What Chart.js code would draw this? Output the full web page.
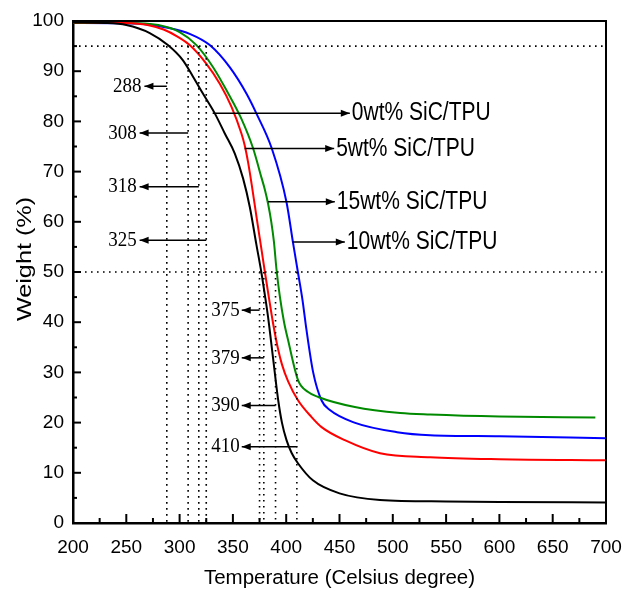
<!DOCTYPE html>
<html>
<head>
<meta charset="utf-8">
<script src="https://cdn.jsdelivr.net/npm/chart.js@4.4.0/dist/chart.umd.min.js"></script>
<style>
  html, body { margin: 0; padding: 0; background: #fff; }
  #wrap { width: 623px; height: 591px; }
</style>
</head>
<body>
<div id="wrap"><canvas id="tgaChart" width="623" height="591"></canvas></div>
<script>
// TGA curves
const temp0 = [200, 230, 250, 272, 289, 303, 312.6, 322, 333, 342.4, 351.8, 359.6, 365.9, 372, 376.8, 380, 383, 387.7, 392.4, 396, 400.3, 405, 411, 425, 450, 488, 550, 600, 700];
const wt0   = [99.7, 99.6, 99.2, 97.6, 95.2, 92.2, 88.9, 85.5, 81.6, 77.6, 73.6, 68.6, 62.9, 55.5, 49.8, 45.4, 41, 32.8, 24.6, 20, 16.5, 14, 11.9, 8.5, 5.9, 4.6, 4.3, 4.2, 4.1];

const temp5 = [200, 250, 270, 285, 298, 309.5, 325, 337.7, 348.7, 358, 361, 364.3, 367.5, 372, 376.8, 380, 384, 388, 392.4, 396, 401.8, 411.2, 423.8, 433.2, 455, 488, 535, 600, 700];
const wt5   = [99.7, 99.6, 99.2, 98.3, 96.9, 95.2, 91.5, 87.5, 82.9, 77.6, 75.3, 71.8, 67.6, 61.2, 54.5, 50, 44.6, 39.4, 34.6, 31.6, 28.2, 24.4, 21.1, 19.1, 16.5, 13.9, 13.1, 12.7, 12.5];

const temp15 = [200, 250, 280, 300, 315.8, 331.4, 344, 358, 369, 376.8, 380, 383, 386, 388.5, 390.9, 394, 398, 401.8, 411.2, 420.6, 430, 464.4, 507, 535, 600, 690];
const wt15   = [99.6, 99.6, 99.2, 97.8, 95.2, 90.8, 86.2, 80.5, 74.6, 68.8, 66.4, 63.6, 60, 56, 50.5, 45.2, 40, 36.4, 28.4, 26.1, 25.1, 23.1, 21.9, 21.6, 21.2, 21.0];

const temp10 = [200, 260, 290, 310, 328.3, 347, 362.8, 372, 386.5, 400.3, 406.5, 411.2, 415.3, 419, 425.3, 433.2, 441, 464, 504, 535, 600, 700];
const wt10   = [99.6, 99.5, 98.6, 97.4, 95.2, 90.8, 85.5, 81.6, 74.6, 63.9, 55.7, 49.7, 44.4, 38.5, 30, 24.4, 22.5, 20.0, 18.1, 17.5, 17.3, 16.9];

// 5 % loss and 50 % loss temperatures
const onsetTemps = [288, 308, 318, 325];
const onsetArrowY = [87, 77.7, 67, 56.3];
const onsetArrowTip = [267, 262.5, 262.5, 262.5];
const halfTemps = [375, 379, 390, 410];
const halfArrowY = [42.4, 32.9, 23.4, 15.2];
const halfArrowTip = 358.3;

// curve labels with arrows
const labelNames = ['0wt% SiC/TPU', '5wt% SiC/TPU', '15wt% SiC/TPU', '10wt% SiC/TPU'];
const labelFrom = [331, 361, 383, 406];
const labelTo = [459.7, 445, 445.6, 455];
const labelY = [81.6, 74.6, 64, 56];

const tickFont = { family: '"Liberation Sans", Arial, sans-serif', size: 19 };
const titleFont = { family: '"Liberation Sans", Arial, sans-serif', size: 20.5 };

function series(t, w) {
  return t.map((v, i) => ({ x: v, y: w[i] }));
}

function arrow(ctx, x1, y1, x2, y2) {
  ctx.beginPath();
  ctx.moveTo(x1, y1);
  ctx.lineTo(x2, y2);
  ctx.stroke();
  const dir = Math.sign(x2 - x1);
  ctx.beginPath();
  ctx.moveTo(x2, y2);
  ctx.lineTo(x2 - dir * 9, y2 - 3.5);
  ctx.lineTo(x2 - dir * 9, y2 + 3.5);
  ctx.closePath();
  ctx.fill();
}

// the source figure is stretched vertically, so text is too
function stretchedText(ctx, txt, x, y, font, sx, sy, align, rot) {
  ctx.save();
  ctx.translate(x, y);
  if (rot) ctx.rotate(rot);
  ctx.scale(sx, sy);
  ctx.font = font;
  ctx.textAlign = align;
  ctx.textBaseline = 'middle';
  ctx.fillText(txt, 0, 0);
  ctx.restore();
}

const decorations = {
  id: 'decorations',
  afterDraw(chart) {
    const { ctx, chartArea: { left, right, top, bottom }, scales: { x, y } } = chart;
    ctx.save();
    ctx.strokeStyle = '#000';
    ctx.fillStyle = '#000';

    // top and right frame
    ctx.lineWidth = 2;
    ctx.beginPath();
    ctx.moveTo(left, top);
    ctx.lineTo(right, top);
    ctx.lineTo(right, bottom);
    ctx.stroke();

    // inward ticks
    ctx.lineWidth = 2;
    for (let v = x.min + 25; v < x.max; v += 25) {
      const px = x.getPixelForValue(v);
      const len = v % 50 === 0 ? 9 : 5;
      ctx.beginPath();
      ctx.moveTo(px, bottom);
      ctx.lineTo(px, bottom - len);
      ctx.stroke();
    }
    for (let v = y.min + 5; v < y.max; v += 5) {
      const py = y.getPixelForValue(v);
      const len = v % 10 === 0 ? 8 : 4;
      ctx.beginPath();
      ctx.moveTo(left, py);
      ctx.lineTo(left + len, py);
      ctx.stroke();
    }

    // dotted guide lines
    ctx.lineWidth = 1.6;
    ctx.setLineDash([1.6, 4.4]);
    [95, 50].forEach(v => {
      const py = y.getPixelForValue(v);
      ctx.beginPath();
      ctx.moveTo(left, py);
      ctx.lineTo(right, py);
      ctx.stroke();
    });
    onsetTemps.forEach(t => {
      const px = x.getPixelForValue(t);
      ctx.beginPath();
      ctx.moveTo(px, y.getPixelForValue(95));
      ctx.lineTo(px, bottom);
      ctx.stroke();
    });
    halfTemps.forEach(t => {
      const px = x.getPixelForValue(t);
      ctx.beginPath();
      ctx.moveTo(px, y.getPixelForValue(50));
      ctx.lineTo(px, bottom);
      ctx.stroke();
    });
    ctx.setLineDash([]);

    // temperature markers
    ctx.lineWidth = 1.5;
    const serif = '19px "Liberation Serif", "Times New Roman", serif';
    onsetTemps.forEach((t, i) => {
      const py = y.getPixelForValue(onsetArrowY[i]);
      const tip = x.getPixelForValue(onsetArrowTip[i]);
      arrow(ctx, x.getPixelForValue(t), py, tip, py);
      stretchedText(ctx, String(t), tip - 3, py, serif, 1, 1.15, 'right');
    });
    halfTemps.forEach((t, i) => {
      const py = y.getPixelForValue(halfArrowY[i]);
      const tip = x.getPixelForValue(halfArrowTip);
      arrow(ctx, x.getPixelForValue(t), py, tip, py);
      stretchedText(ctx, String(t), tip - 2, py, serif, 1, 1.15, 'right');
    });

    // curve names
    const sans = '21px "Liberation Sans", Arial, sans-serif';
    labelNames.forEach((name, i) => {
      const py = y.getPixelForValue(labelY[i]);
      const tip = x.getPixelForValue(labelTo[i]);
      arrow(ctx, x.getPixelForValue(labelFrom[i]), py, tip, py);
      stretchedText(ctx, name, tip + 2, py, sans, 1, 1.22, 'left');
    });

    // y axis title
    stretchedText(ctx, 'Weight (%)', 25, (top + bottom) / 2 - 13, '21px "Liberation Sans", Arial, sans-serif', 1.2, 1, 'center', -Math.PI / 2);
    ctx.restore();
  }
};

const lineStyle = { showLine: true, pointRadius: 0, borderWidth: 2, fill: false, cubicInterpolationMode: 'monotone' };

new Chart(document.getElementById('tgaChart'), {
  type: 'scatter',
  data: {
    datasets: [
      { label: labelNames[0], data: series(temp0, wt0), borderColor: '#000000', ...lineStyle },
      { label: labelNames[1], data: series(temp5, wt5), borderColor: '#ff0000', ...lineStyle },
      { label: labelNames[2], data: series(temp15, wt15), borderColor: '#008a00', ...lineStyle },
      { label: labelNames[3], data: series(temp10, wt10), borderColor: '#0000ff', ...lineStyle }
    ]
  },
  options: {
    responsive: false,
    animation: false,
    devicePixelRatio: 1,
    layout: { padding: { top: 21, right: 17, left: 0, bottom: 0 } },
    plugins: { legend: { display: false }, tooltip: { enabled: false } },
    scales: {
      x: {
        type: 'linear',
        min: 200,
        max: 700,
        afterFit(scale) { scale.height = 68; scale.paddingRight = 0; scale.paddingLeft = 0; },
        grid: { display: false, drawTicks: false },
        border: { display: true, color: '#000', width: 2.5 },
        ticks: { stepSize: 50, color: '#000', font: tickFont, padding: 13, maxRotation: 0 },
        title: { display: true, text: 'Temperature (Celsius degree)', color: '#000', font: titleFont, padding: { top: 0, bottom: 0 } }
      },
      y: {
        min: 0,
        max: 100,
        afterFit(scale) { scale.width = 73; scale.paddingTop = 0; scale.paddingBottom = 0; },
        grid: { display: false, drawTicks: false },
        border: { display: true, color: '#000', width: 2.5 },
        ticks: { stepSize: 10, color: '#000', font: tickFont, padding: 9 },
        title: { display: false }
      }
    }
  },
  plugins: [decorations]
});
</script>
</body>
</html>
